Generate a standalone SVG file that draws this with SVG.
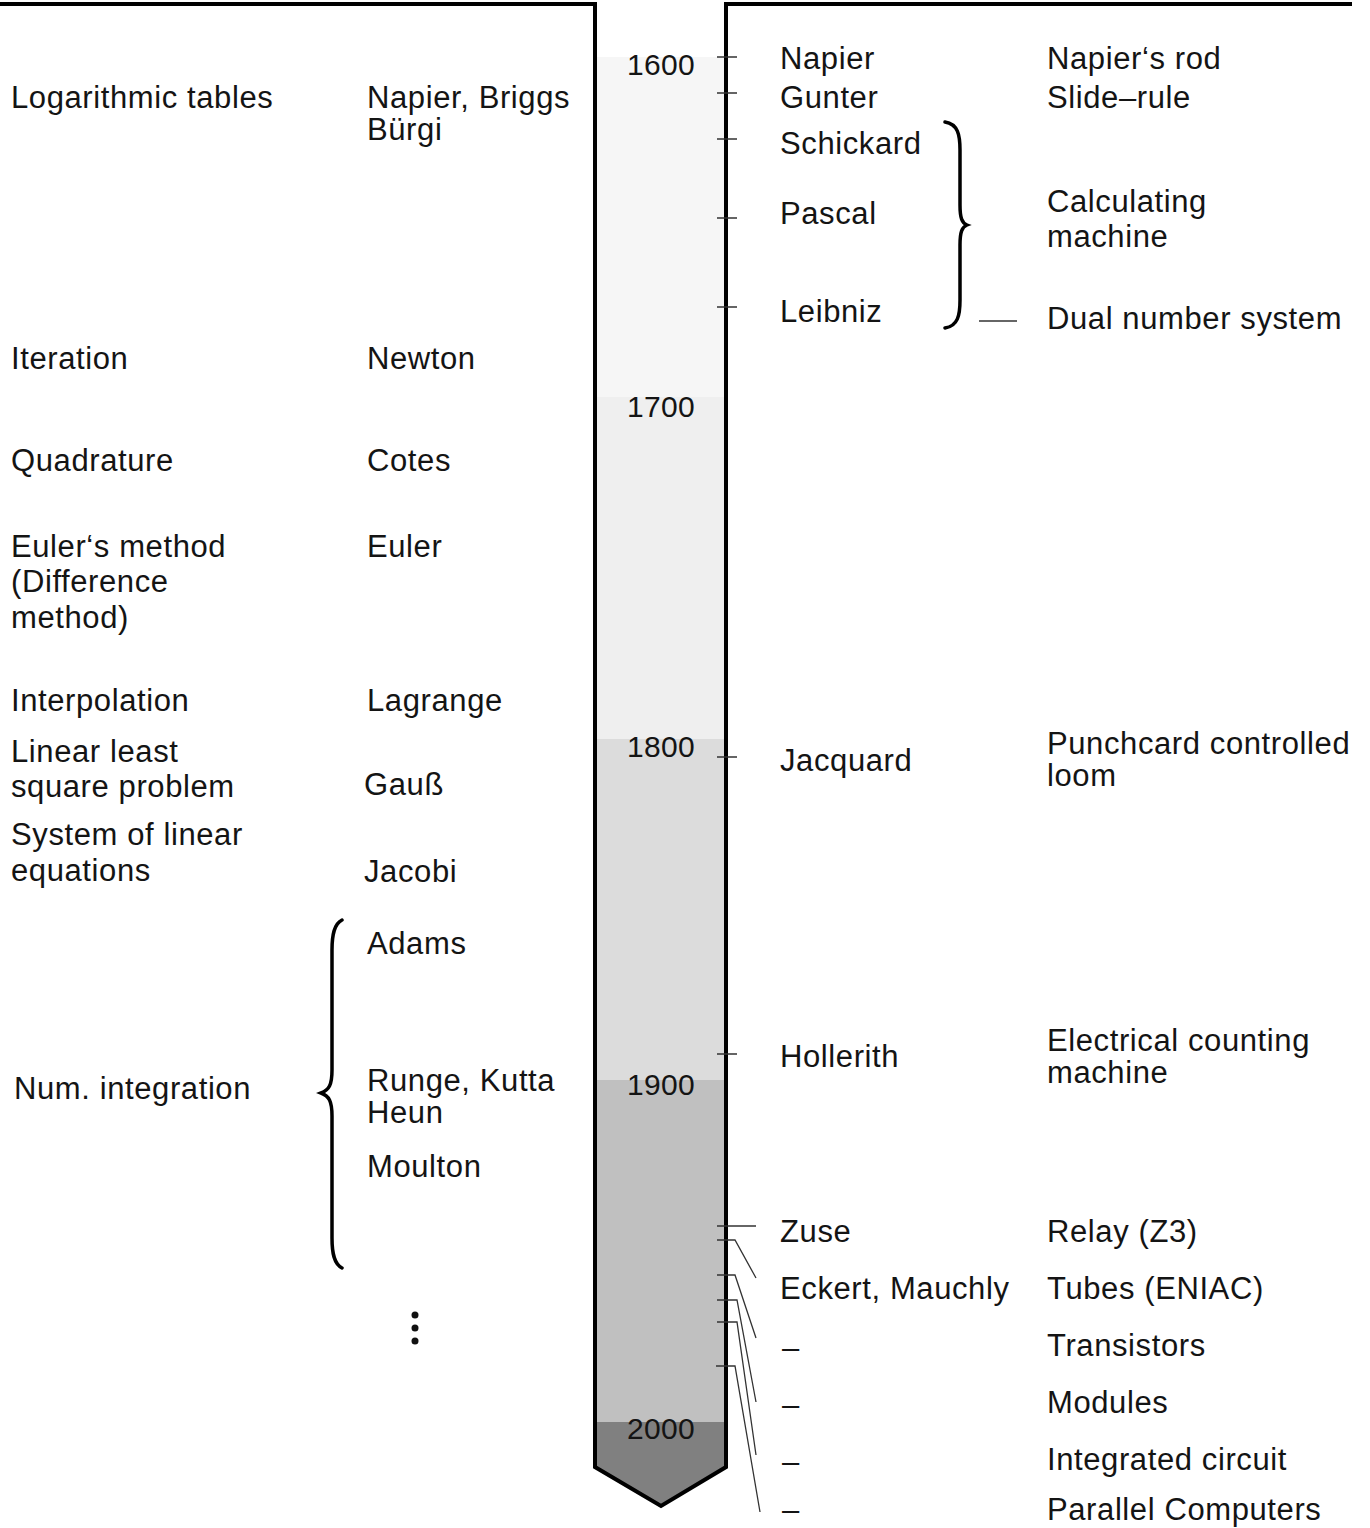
<svg xmlns="http://www.w3.org/2000/svg" width="1370" height="1528" viewBox="0 0 1370 1528">
<style>
text{font-family:"Liberation Sans",Arial,Helvetica,sans-serif;font-size:31px;fill:#141414;letter-spacing:0.6px}
.yr{font-size:30px;letter-spacing:0.3px;text-anchor:middle}
.frame{fill:none;stroke:#000;stroke-width:4;stroke-linejoin:miter}
.tick{fill:none;stroke:#333;stroke-width:1.3}
.brace{fill:none;stroke:#000;stroke-width:3.5;stroke-linecap:round}
</style>
<rect width="1370" height="1528" fill="#fff"/>
<g id="timeline">
<rect x="595" y="57" width="131" height="341" fill="#f6f6f6"/>
<rect x="595" y="397" width="131" height="343" fill="#efefef"/>
<rect x="595" y="739" width="131" height="342" fill="#dcdcdc"/>
<rect x="595" y="1080" width="131" height="343" fill="#c0c0c0"/>
<path d="M595,1422 L726,1422 L726,1467 L661,1506 L595,1467 Z" fill="#808080"/>
<path class="frame" d="M0,4 L595,4 L595,1467 L661,1506 L726,1467 L726,4 L1352,4"/>
<text class="yr" x="661" y="75">1600</text>
<text class="yr" x="661" y="417">1700</text>
<text class="yr" x="661" y="757">1800</text>
<text class="yr" x="661" y="1095">1900</text>
<text class="yr" x="661" y="1439">2000</text>
</g>
<g id="connectors">
<path class="tick" d="M717,57 H737 M717,93 H737 M717,139 H737 M717,218 H737 M717,307 H737 M717,757 H737 M717,1054 H737"/>
<path class="tick" d="M979,321 H1017"/>
<path class="tick" d="M717,1226 H756"/>
<path class="tick" d="M717,1240 H735 L756,1278"/>
<path class="tick" d="M717,1275 H735 L756,1338"/>
<path class="tick" d="M717,1300 H737 L756,1402"/>
<path class="tick" d="M717,1322 H737 L756,1455"/>
<path class="tick" d="M716,1366 H735 L760,1512"/>
<path class="brace" d="M945,122 C958,124 960,135 960,150 L960,205 C960,218 962,223 967,225 C962,227 960,232 960,245 L960,300 C960,315 958,326 945,328"/>
<path class="brace" d="M342,920 C334,924 332,935 332,950 L332,1070 C332,1085 329,1090 321,1093 C329,1096 332,1101 332,1116 L332,1238 C332,1253 334,1264 342,1268"/>
</g>
<g id="methods">
<text id="m-log" x="11" y="108">Logarithmic tables</text>
<text id="m-iter" x="11" y="369">Iteration</text>
<text id="m-quad" x="11" y="471">Quadrature</text>
<g id="m-euler"><text x="11" y="557">Euler‘s method</text><text x="11" y="592">(Difference</text><text x="11" y="628">method)</text></g>
<text id="m-interp" x="11" y="711">Interpolation</text>
<g id="m-lsq"><text x="11" y="762">Linear least</text><text x="11" y="797">square problem</text></g>
<g id="m-sys"><text x="11" y="845">System of linear</text><text x="11" y="881">equations</text></g>
<text id="m-numint" x="14" y="1099">Num. integration</text>
</g>
<g id="mathematicians">
<g id="p-napier"><text x="367" y="108">Napier, Briggs</text><text x="367" y="140">Bürgi</text></g>
<text id="p-newton" x="367" y="369">Newton</text>
<text id="p-cotes" x="367" y="471">Cotes</text>
<text id="p-euler" x="367" y="557">Euler</text>
<text id="p-lagrange" x="367" y="711">Lagrange</text>
<text id="p-gauss" x="364" y="795">Gauß</text>
<text id="p-jacobi" x="364" y="882">Jacobi</text>
<text id="p-adams" x="367" y="954">Adams</text>
<g id="p-rk"><text x="367" y="1091">Runge, Kutta</text><text x="367" y="1123">Heun</text></g>
<text id="p-moulton" x="367" y="1177">Moulton</text>
<g id="ellipsis" fill="#111"><circle cx="415" cy="1315" r="3.5"/><circle cx="415" cy="1328" r="3.5"/><circle cx="415" cy="1341" r="3.5"/></g>
</g>
<g id="inventors">
<text id="i-napier" x="780" y="69">Napier</text>
<text id="i-gunter" x="780" y="108">Gunter</text>
<text id="i-schickard" x="780" y="154">Schickard</text>
<text id="i-pascal" x="780" y="224">Pascal</text>
<text id="i-leibniz" x="780" y="322">Leibniz</text>
<text id="i-jacquard" x="780" y="771">Jacquard</text>
<text id="i-hollerith" x="780" y="1067">Hollerith</text>
<text id="i-zuse" x="780" y="1242">Zuse</text>
<text id="i-eckert" x="780" y="1299">Eckert, Mauchly</text>
<text id="i-d1" x="782" y="1358">–</text>
<text id="i-d2" x="782" y="1415">–</text>
<text id="i-d3" x="782" y="1472">–</text>
<text id="i-d4" x="782" y="1520">–</text>
</g>
<g id="devices">
<text id="d-rod" x="1047" y="69">Napier‘s rod</text>
<text id="d-slide" x="1047" y="108">Slide–rule</text>
<g id="d-calc"><text x="1047" y="212">Calculating</text><text x="1047" y="247">machine</text></g>
<text id="d-dual" x="1047" y="329">Dual number system</text>
<g id="d-loom"><text x="1047" y="754">Punchcard controlled</text><text x="1047" y="786">loom</text></g>
<g id="d-elec"><text x="1047" y="1051">Electrical counting</text><text x="1047" y="1083">machine</text></g>
<text id="d-relay" x="1047" y="1242" letter-spacing="0">Relay (Z3)</text>
<text id="d-tubes" x="1047" y="1299" letter-spacing="0">Tubes (ENIAC)</text>
<text id="d-trans" x="1047" y="1356">Transistors</text>
<text id="d-mod" x="1047" y="1413">Modules</text>
<text id="d-ic" x="1047" y="1470">Integrated circuit</text>
<text id="d-par" x="1047" y="1520">Parallel Computers</text>
</g>
</svg>
